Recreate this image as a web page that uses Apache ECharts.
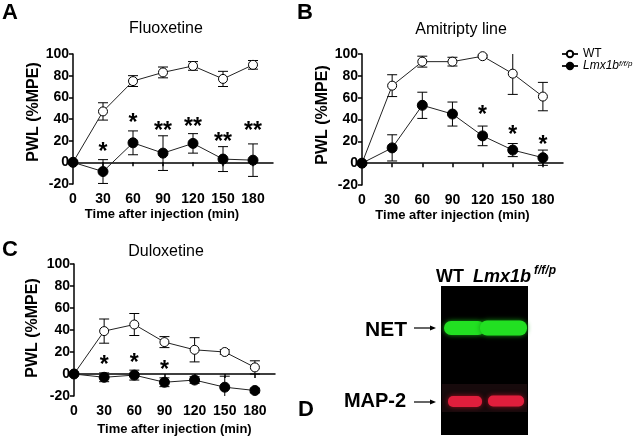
<!DOCTYPE html>
<html><head><meta charset="utf-8">
<script src="https://cdn.jsdelivr.net/npm/echarts@6/dist/echarts.min.js"></script>
<style>html,body{margin:0;padding:0;background:#fff}#c{width:640px;height:438px}</style>
</head><body><div id="c"></div>
<script>
// ---- data ----
const timeMin = [0, 30, 60, 90, 120, 150, 180];
const xTicks = [0, 30, 60, 90, 120, 150, 180];
const yTicks = [-20, 0, 20, 40, 60, 80, 100];
const panelTitles = ['Fluoxetine', 'Amitripty line', 'Duloxetine'];
const seriesNames = ['WT', 'Lmx1b'];

const fluoxWT = [0, 47, 75, 83, 89, 77, 90];
const fluoxWTErr = [0, 8, 5, 5, 4, 7, 4];
const fluoxKO = [0, -8.5, 18, 8.5, 17.5, 3, 2];
const fluoxKOErr = [0, 11, 11, 16, 9, 11.5, 15];
const fluoxStarX = [30, 60, 90, 120, 150, 180];
const fluoxStarY = [14, 40, 33, 37, 23, 33];
const fluoxStars = ['*', '*', '**', '**', '**', '**'];

const amitWT = [0, 71, 93, 93, 98, 82, 61];
const amitWTErr = [0, 10, 5, 4, 1, 19, 13];
const amitKO = [0, 14, 53, 45, 25, 12, 5];
const amitKOErr = [0, 12, 12, 11, 9, 6, 7];
const amitStarX = [120, 150, 180];
const amitStarY = [48, 30, 21];
const amitStars = ['*', '*', '*'];

const dulWT = [0, 39, 45, 29, 22, 20, 6];
const dulWTErr = [0, 11, 10, 5, 11, 2, 6];
const dulKO = [0, -3, -1, -7.5, -5.5, -12, -15];
const dulKOErr = [0, 4, 4.5, 4, 3, 10, 2];
const dulStarX = [30, 60, 90];
const dulStarY = [12.5, 14, 7.5];
const dulStars = ['*', '*', '*'];

const blotLanes = ['WT', 'Lmx1b'];
const blotBands = ['NET', 'MAP-2'];

// ---- chart ----
const FF = "'Liberation Sans', Arial, sans-serif";
const chart = echarts.init(document.getElementById('c'), null, {renderer: 'canvas'});

const grids = [
  {left: 73, top: 54, width: 200, height: 130},
  {left: 362, top: 54, width: 201, height: 131},
  {left: 74, top: 264, width: 201, height: 132}
];
const xNameCfg = [
  {gap: 24, pad: [0, 22, 0, 0]},
  {gap: 24, pad: [0, 20, 0, 0]},
  {gap: 27, pad: [0, 0, 0, 0]}
];
const yNameCfg = [
  {gap: 31, pad: [0, 0, 0, 14]},
  {gap: 31, pad: [0, 0, 0, 9]},
  {gap: 33, pad: [0, 0, 0, 4]}
];

const xAxes = grids.map((g, i) => ({
  type: 'value', gridIndex: i, min: 0, max: 200, interval: 30,
  name: 'Time after injection (min)', nameLocation: 'middle', nameGap: xNameCfg[i].gap,
  nameTextStyle: {fontFamily: FF, fontWeight: 'bold', fontSize: 13, color: '#000', padding: xNameCfg[i].pad},
  axisLine: {lineStyle: {color: '#000', width: 1.5}},
  axisTick: {show: true, length: 4, customValues: xTicks, lineStyle: {color: '#000', width: 1.5}},
  axisLabel: {customValues: xTicks, fontFamily: FF, fontWeight: 'bold', fontSize: 14, color: '#000', margin: 8},
  splitLine: {show: false}
}));
const yAxes = grids.map((g, i) => ({
  type: 'value', gridIndex: i, min: -20, max: 100, interval: 20,
  name: 'PWL (%MPE)', nameLocation: 'middle', nameGap: yNameCfg[i].gap,
  nameTextStyle: {fontFamily: FF, fontWeight: 'bold', fontSize: 16, color: '#000', padding: yNameCfg[i].pad},
  axisLine: {show: true, lineStyle: {color: '#000', width: 1.5}},
  axisTick: {show: true, length: 4, customValues: yTicks, lineStyle: {color: '#000', width: 1.5}},
  axisLabel: {customValues: yTicks, fontFamily: FF, fontWeight: 'bold', fontSize: 14, color: '#000', margin: 4},
  splitLine: {show: false}
}));

function errSeries(gi, means, errs) {
  const data = [];
  timeMin.forEach((t, k) => { if (errs[k] > 0) data.push([t, means[k] - errs[k], means[k] + errs[k]]); });
  return {
    type: 'custom', xAxisIndex: gi, yAxisIndex: gi, z: 1, clip: true, silent: true,
    data: data,
    renderItem: function (params, api) {
      const x = api.value(0);
      const lo = api.coord([x, api.value(1)]);
      const hi = api.coord([x, api.value(2)]);
      const w = 5;
      const st = {stroke: '#000', lineWidth: 1};
      return {type: 'group', children: [
        {type: 'line', shape: {x1: lo[0], y1: lo[1], x2: hi[0], y2: hi[1]}, style: st},
        {type: 'line', shape: {x1: lo[0] - w, y1: lo[1], x2: lo[0] + w, y2: lo[1]}, style: st},
        {type: 'line', shape: {x1: hi[0] - w, y1: hi[1], x2: hi[0] + w, y2: hi[1]}, style: st}
      ]};
    }
  };
}
function lineSeries(gi, name, vals, open) {
  return {
    type: 'line', name: name, xAxisIndex: gi, yAxisIndex: gi, z: 3,
    data: timeMin.map((t, k) => [t, vals[k]]),
    symbol: 'circle', symbolSize: open ? 9 : 10, showSymbol: true,
    lineStyle: {color: '#222', width: 1},
    itemStyle: open ? {color: '#fff', borderColor: '#000', borderWidth: 1} : {color: '#000', borderColor: '#000', borderWidth: 1},
    emphasis: {disabled: true}, animation: false
  };
}
function starSeries(gi, xs, ys, txt) {
  return {
    type: 'custom', xAxisIndex: gi, yAxisIndex: gi, z: 4, silent: true,
    data: xs.map((x, k) => [x, ys[k], txt[k]]),
    renderItem: function (params, api) {
      const p = api.coord([api.value(0), api.value(1)]);
      const t = txt[params.dataIndex];
      return {type: 'text', x: p[0], y: p[1] + 5, style: {text: t, align: 'center', verticalAlign: 'middle',
        fontFamily: FF, fontWeight: 'bold', fontSize: 23, fill: '#000'}};
    }
  };
}

const series = [
  errSeries(0, fluoxWT, fluoxWTErr), errSeries(0, fluoxKO, fluoxKOErr),
  lineSeries(0, seriesNames[0], fluoxWT, true), lineSeries(0, seriesNames[1], fluoxKO, false),
  starSeries(0, fluoxStarX, fluoxStarY, fluoxStars),
  errSeries(1, amitWT, amitWTErr), errSeries(1, amitKO, amitKOErr),
  lineSeries(1, seriesNames[0], amitWT, true), lineSeries(1, seriesNames[1], amitKO, false),
  starSeries(1, amitStarX, amitStarY, amitStars),
  errSeries(2, dulWT, dulWTErr), errSeries(2, dulKO, dulKOErr),
  lineSeries(2, seriesNames[0], dulWT, true), lineSeries(2, seriesNames[1], dulKO, false),
  starSeries(2, dulStarX, dulStarY, dulStars)
];

function txt(x, y, text, size, extra) {
  return Object.assign({type: 'text', x: x, y: y, z: 10, style: Object.assign({text: text, align: 'center', verticalAlign: 'middle',
    fontFamily: FF, fontSize: size, fill: '#000'}, extra || {})});
}
function arrow(x1, x2, y) {
  return [
    {type: 'line', shape: {x1: x1, y1: y, x2: x2 - 4, y2: y}, style: {stroke: '#000', lineWidth: 1.2}},
    {type: 'polygon', shape: {points: [[x2, y], [x2 - 6, y - 2.5], [x2 - 6, y + 2.5]]}, style: {fill: '#000'}}
  ];
}

const graphics = [
  txt(10, 13, 'A', 22, {fontWeight: 'bold'}),
  txt(305, 13, 'B', 22, {fontWeight: 'bold'}),
  txt(10, 250, 'C', 22, {fontWeight: 'bold'}),
  txt(306, 410, 'D', 22, {fontWeight: 'bold'}),
  txt(166, 29, panelTitles[0], 16),
  txt(461, 30, panelTitles[1], 16),
  txt(166, 252, panelTitles[2], 16),
  // blot
  {type: 'rect', shape: {x: 441, y: 286, width: 87, height: 149}, style: {fill: '#000'}},
  {type: 'rect', shape: {x: 442, y: 384, width: 85, height: 28}, style: {fill: '#170a0c'}},
  {type: 'rect', shape: {x: 444, y: 321, width: 41, height: 14, r: 7}, style: {fill: '#22e022', shadowBlur: 5, shadowColor: '#15a015'}},
  {type: 'rect', shape: {x: 480, y: 320.5, width: 47, height: 15, r: 7}, style: {fill: '#22e022', shadowBlur: 5, shadowColor: '#15a015'}},
  {type: 'rect', shape: {x: 448, y: 396, width: 34, height: 11, r: 5}, style: {fill: '#e01e3c', shadowBlur: 5, shadowColor: '#a01020'}},
  {type: 'rect', shape: {x: 488, y: 395.5, width: 36, height: 11, r: 5}, style: {fill: '#e01e3c', shadowBlur: 5, shadowColor: '#a01020'}},
  txt(450, 277, blotLanes[0], 18, {fontWeight: 'bold'}),
  txt(473, 277, blotLanes[1], 18, {fontWeight: 'bold', fontStyle: 'italic', align: 'left'}),
  txt(534, 271, 'f/f/p', 12, {fontWeight: 'bold', fontStyle: 'italic', align: 'left'}),
  txt(386, 330, blotBands[0], 21, {fontWeight: 'bold'}),
  txt(375, 401, blotBands[1], 20, {fontWeight: 'bold'})
].concat(arrow(414, 436, 328)).concat(arrow(414, 436, 402));

chart.setOption({
  animation: false,
  grid: grids,
  xAxis: xAxes,
  yAxis: yAxes,
  legend: {
    orient: 'vertical', left: 556, top: 46, itemWidth: 16, itemHeight: 8, itemGap: 0, padding: [2, 5, 2, 5],
    data: seriesNames,
    textStyle: {fontFamily: FF, fontSize: 12, color: '#000', lineHeight: 12,
      rich: {i: {fontStyle: 'italic', fontSize: 12, fontFamily: FF, lineHeight: 12, verticalAlign: 'bottom'},
             s: {fontStyle: 'italic', fontSize: 8, fontFamily: FF, lineHeight: 12, verticalAlign: 'top'}}},
    formatter: function (n) { return n === 'WT' ? 'WT' : '{i|Lmx1b}{s|f/f/p}'; },
    selectedMode: false
  },
  series: series,
  graphic: graphics
});
</script></body></html>
